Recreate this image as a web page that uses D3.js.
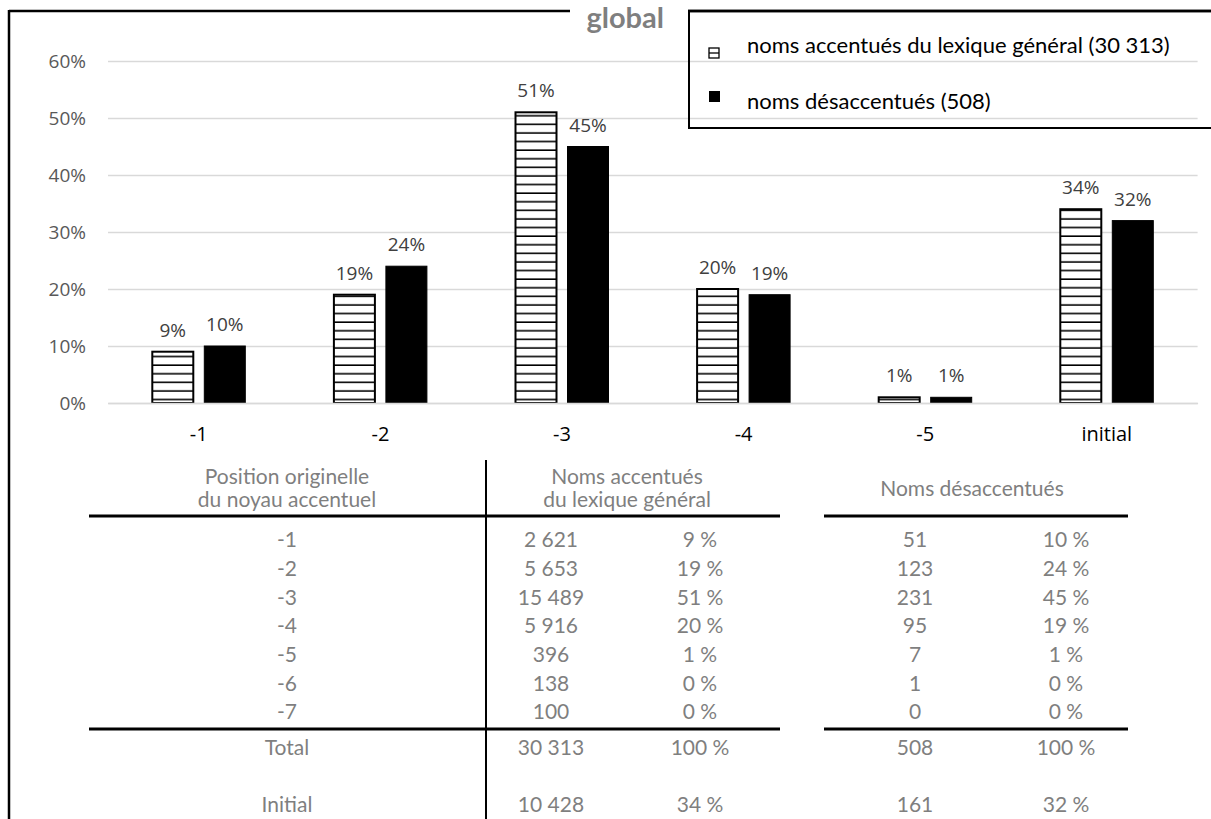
<!DOCTYPE html>
<html><head><meta charset="utf-8">
<script src="https://cdn.jsdelivr.net/npm/d3@7"></script>
<style>body{margin:0;background:#fff}svg{display:block}</style>
</head><body>
<svg id="c" width="1211" height="819"></svg>
<script>
const categories = ["-1","-2","-3","-4","-5","initial"];
const accentues = [9,19,51,20,1,34];
const desaccentues = [10,24,45,19,1,32];
const yTicks = [0,10,20,30,40,50,60];
const seriesNames = ["noms accentués du lexique général (30 313)","noms désaccentués (508)"];
const chartTitle = "global";

const tableHeaders = [["Position originelle","du noyau accentuel"],["Noms accentués","du lexique général"],["Noms désaccentués"]];
const positions = ["-1","-2","-3","-4","-5","-6","-7"];
const accCounts = ["2 621","5 653","15 489","5 916","396","138","100"];
const accPct = ["9 %","19 %","51 %","20 %","1 %","0 %","0 %"];
const desCounts = ["51","123","231","95","7","1","0"];
const desPct = ["10 %","24 %","45 %","19 %","1 %","0 %","0 %"];
const totalRow = ["Total","30 313","100 %","508","100 %"];
const initialRow = ["Initial","10 428","34 %","161","32 %"];

const svg = d3.select("#c");
const chartFont = "'Open Sans', sans-serif";
const tabFont = "Lato, sans-serif";

// pattern
const defs = svg.append("defs");
const pat = defs.append("pattern").attr("id","hatch").attr("patternUnits","userSpaceOnUse")
  .attr("width",10).attr("height",8.6);
pat.append("rect").attr("width",10).attr("height",8.6).attr("fill","#fff");
pat.append("line").attr("x1",0).attr("x2",10).attr("y1",4).attr("y2",4).attr("stroke","#000").attr("stroke-width",1.6);

const x = d3.scaleBand().domain(categories).range([108,1197.6]).paddingInner(0).paddingOuter(0);
const y = d3.scaleLinear().domain([0,60]).range([403,61]);
const barW = 41, gap = 11;
const sub = d3.scaleOrdinal().domain([0,1]).range([ (x.bandwidth()-2*barW-gap)/2, (x.bandwidth()-2*barW-gap)/2 + barW + gap ]);

// gridlines
const yAxis = d3.axisLeft(y).tickValues(yTicks).tickFormat(d=>d+"%").tickSize(-(1197.6-108)).tickPadding(22);
const ga = svg.append("g").attr("transform","translate(108,0)").call(yAxis);
ga.select(".domain").remove();
ga.selectAll(".tick line").attr("stroke","#d9d9d9").attr("stroke-width",1.5);
ga.selectAll(".tick text").attr("fill","#595959").attr("font-family",chartFont).attr("font-size",19);

// bars
const data = categories.map((c,i)=>({c, vals:[accentues[i],desaccentues[i]]}));
const groups = svg.append("g").selectAll("g").data(data).join("g")
  .attr("transform",d=>`translate(${x(d.c)},0)`);
groups.selectAll("rect").data(d=>d.vals.map((v,k)=>({v,k}))).join("rect")
  .attr("x",d=>sub(d.k)).attr("width",barW)
  .attr("y",d=>y(d.v)).attr("height",d=>y(0)-y(d.v))
  .attr("fill",d=>d.k===0?"url(#hatch)":"#000")
  .attr("stroke","#000").attr("stroke-width",d=>d.k===0?2:1);
groups.selectAll("text").data(d=>d.vals.map((v,k)=>({v,k}))).join("text")
  .attr("x",d=>sub(d.k)+barW/2).attr("y",d=>y(d.v)-15)
  .attr("text-anchor","middle").attr("font-family",chartFont).attr("font-size",19).attr("fill","#404040")
  .text(d=>d.v+"%");

// x axis
const xAxis = d3.axisBottom(x).tickSize(0).tickPadding(24);
const gx = svg.append("g").attr("transform","translate(0,403)").call(xAxis);
gx.select(".domain").attr("stroke","#d9d9d9").attr("stroke-width",1.5);
gx.selectAll(".tick text").attr("fill","#000").attr("font-family",chartFont).attr("font-size",20);

// frame
svg.append("line").attr("x1",9).attr("x2",1211).attr("y1",11).attr("y2",11).attr("stroke","#000").attr("stroke-width",2.5);
svg.append("line").attr("x1",9).attr("x2",9).attr("y1",10).attr("y2",819).attr("stroke","#000").attr("stroke-width",2.5);

// title with white background
svg.append("rect").attr("x",570).attr("y",0).attr("width",118).attr("height",36).attr("fill","#fff");
svg.append("text").attr("x",664).attr("y",28).attr("text-anchor","end")
  .attr("font-family",tabFont).attr("font-weight","bold").attr("font-size",29).attr("fill","#7f7f7f").text(chartTitle);

// legend
const lg = svg.append("g");
lg.append("path").attr("d","M689,10 V128 H1211").attr("fill","none").attr("stroke","#000").attr("stroke-width",2);
lg.append("line").attr("x1",688).attr("x2",1211).attr("y1",11).attr("y2",11).attr("stroke","#000").attr("stroke-width",2.5);
const legY = [47, 103];
lg.append("rect").attr("x",709).attr("y",48).attr("width",10).attr("height",10).attr("fill","#fff").attr("stroke","#000").attr("stroke-width",1.3);
lg.append("line").attr("x1",709).attr("x2",719).attr("y1",53).attr("y2",53).attr("stroke","#000").attr("stroke-width",1.3);
lg.append("rect").attr("x",709).attr("y",91).attr("width",11).attr("height",11).attr("fill","#000");
lg.selectAll("text.leg").data(seriesNames).join("text").attr("class","leg")
  .attr("x",747).attr("y",(d,i)=>legY[i]).attr("dominant-baseline","middle")
  .attr("font-family",tabFont).attr("font-size",22).attr("fill","#000").text(d=>d);

// table
const tg = svg.append("g").attr("font-family",tabFont).attr("font-size",21).attr("fill","#7f7f7f");
const colX = [287, 551, 700, 915, 1066];
tg.append("line").attr("x1",486).attr("x2",486).attr("y1",460).attr("y2",819).attr("stroke","#000").attr("stroke-width",2);
tableHeaders[0].forEach((t,i)=>tg.append("text").attr("x",287).attr("y",477+i*23).attr("dy","0.35em").attr("text-anchor","middle").text(t));
tableHeaders[1].forEach((t,i)=>tg.append("text").attr("x",627).attr("y",477+i*23).attr("dy","0.35em").attr("text-anchor","middle").text(t));
tableHeaders[2].forEach((t,i)=>tg.append("text").attr("x",972).attr("y",489).attr("dy","0.35em").attr("text-anchor","middle").text(t));
[[89,780],[824,1128]].forEach(([a,b])=>{
  tg.append("line").attr("x1",a).attr("x2",b).attr("y1",516).attr("y2",516).attr("stroke","#000").attr("stroke-width",3);
  tg.append("line").attr("x1",a).attr("x2",b).attr("y1",729).attr("y2",729).attr("stroke","#000").attr("stroke-width",3);
});
const rows = positions.map((p,i)=>[p,accCounts[i],accPct[i],desCounts[i],desPct[i]]);
const rowY = d3.scalePoint().domain(d3.range(rows.length)).range([540,712]);
rows.forEach((r,i)=>r.forEach((t,j)=>tg.append("text").attr("x",colX[j]).attr("y",rowY(i)).attr("dy","0.35em").attr("text-anchor","middle").text(t)));
totalRow.forEach((t,j)=>tg.append("text").attr("x",colX[j]).attr("y",748).attr("dy","0.35em").attr("text-anchor","middle").text(t));
initialRow.forEach((t,j)=>tg.append("text").attr("x",colX[j]).attr("y",805).attr("dy","0.35em").attr("text-anchor","middle").text(t));
</script>
</body></html>
